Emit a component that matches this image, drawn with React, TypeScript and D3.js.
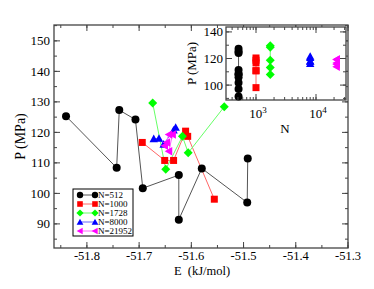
import React from "react";
import * as d3 from "d3";

const E512 = [-51.840, -51.743, -51.738, -51.707, -51.693, -51.624, -51.624, -51.580, -51.493, -51.492];
const P512 = [125.3, 108.4, 127.3, 124.2, 101.7, 106.0, 91.4, 108.2, 97.0, 111.4];
const E1000 = [-51.694, -51.651, -51.634, -51.611, -51.607, -51.556];
const P1000 = [116.7, 110.8, 110.8, 120.4, 118.7, 98.1];
const E1728 = [-51.674, -51.649, -51.617, -51.606, -51.537];
const P1728 = [129.6, 107.9, 118.7, 113.3, 128.4];
const E8000 = [-51.672, -51.662, -51.653, -51.634, -51.630];
const P8000 = [117.9, 118.0, 116.1, 120.7, 121.6];
const E21952 = [-51.647, -51.651, -51.643, -51.636, -51.643];
const P21952 = [116.7, 115.6, 119.3, 119.3, 113.8];

const seriesN = [512, 1000, 1728, 8000, 21952];
const seriesLabels = ["N=512", "N=1000", "N=1728", "N=8000", "N=21952"];
const seriesColors = ["#000000", "#ff0000", "#00ff00", "#0000ff", "#ff00ff"];
const lineColors = ["#555555", "#ff6666", "#66ff66", "#6666ff", "#ff66ff"];
const seriesShapes = ["circle", "square", "diamond", "triUp", "triLeft"];
const seriesE = [E512, E1000, E1728, E8000, E21952];
const seriesP = [P512, P1000, P1728, P8000, P21952];

const xTicks = [-51.8, -51.7, -51.6, -51.5, -51.4, -51.3];
const yTicks = [90, 100, 110, 120, 130, 140, 150];
const insetYTicks = [100, 120, 140];
const insetXTicks = [1000, 10000];

const SERIF = "'Liberation Serif', 'DejaVu Serif', serif";

function Marker({ shape, x, y, color, s = 1 }: { shape: string; x: number; y: number; color: string; s?: number }) {
  if (shape === "circle") return <circle cx={x} cy={y} r={4 * s} fill={color} />;
  if (shape === "square") {
    const h = 3.5 * s;
    return <rect x={x - h} y={y - h} width={2 * h} height={2 * h} fill={color} />;
  }
  if (shape === "diamond") {
    const h = 4.5 * s;
    return <path d={`M${x},${y - h}L${x + h},${y}L${x},${y + h}L${x - h},${y}Z`} fill={color} />;
  }
  if (shape === "triUp") {
    const h = 4.2 * s;
    return <path d={`M${x},${y - h}L${x + h},${y + h * 0.8}L${x - h},${y + h * 0.8}Z`} fill={color} />;
  }
  const h = 4.2 * s;
  return <path d={`M${x - h},${y}L${x + h * 0.8},${y - h}L${x + h * 0.8},${y + h}Z`} fill={color} />;
}

export default function App() {
  const x = d3.scaleLinear().domain([-51.863, -51.3]).range([54, 348]);
  const y = d3.scaleLinear().domain([82.1, 155.2]).range([248, 25]);
  const ix = d3.scaleLog().domain([Math.pow(10, 2.5), Math.pow(10, 4.5)]).range([226, 346]);
  const iy = d3.scaleLinear().domain([88.8, 143.7]).range([100, 27]);

  const [x0, x1] = x.range();
  const [y0, y1] = y.range();
  const [ix0, ix1] = ix.range();
  const [iy0, iy1] = iy.range();

  const xMinor = d3.range(-51.85, -51.29, 0.05).filter((v) => v > -51.863);
  const yMinor = d3.range(85, 156, 5);
  const iyMinor = d3.range(90, 144, 10);
  const ixMinor: number[] = [];
  for (const dec of [100, 1000, 10000]) for (let k = 1; k < 10; k++) {
    const v = dec * k;
    if (v > Math.pow(10, 2.5) && v < Math.pow(10, 4.5)) ixMinor.push(v);
  }

  const line = (E: number[], P: number[]) =>
    d3.line<number>().x((_, i) => x(E[i])).y((_, i) => y(P[i]))(P) || "";

  const tickColor = "#444";

  return (
    <svg width={374} height={289} style={{ position: "absolute", left: 0, top: 0, background: "#fff" }} fontFamily={SERIF}>
      <rect width={374} height={289} fill="#fff" />
      {seriesE.map((E, si) => (
        <path key={"l" + si} d={line(E, seriesP[si])} fill="none" stroke={lineColors[si]} strokeWidth={1} />
      ))}
      {seriesE.map((E, si) =>
        E.map((e, i) => (
          <Marker key={`m${si}-${i}`} shape={seriesShapes[si]} x={x(e)} y={y(seriesP[si][i])} color={seriesColors[si]} />
        ))
      )}
      <rect x={x0} y={y1} width={x1 - x0} height={y0 - y1} fill="none" stroke={tickColor} strokeWidth={1.3} />
      {xTicks.map((t) => (
        <g key={"xt" + t}>
          <line x1={x(t)} x2={x(t)} y1={y0} y2={y0 - 6} stroke={tickColor} />
          <line x1={x(t)} x2={x(t)} y1={y1} y2={y1 + 6} stroke={tickColor} />
          <text x={x(t)} y={260} textAnchor="middle" fontSize={12.5}>{t.toFixed(1)}</text>
        </g>
      ))}
      {xMinor.map((t, i) => (
        <g key={"xm" + i}>
          <line x1={x(t)} x2={x(t)} y1={y0} y2={y0 - 3} stroke={tickColor} />
          <line x1={x(t)} x2={x(t)} y1={y1} y2={y1 + 3} stroke={tickColor} />
        </g>
      ))}
      {yTicks.map((t) => (
        <g key={"yt" + t}>
          <line x1={x0} x2={x0 + 6} y1={y(t)} y2={y(t)} stroke={tickColor} />
          <line x1={x1} x2={x1 - 6} y1={y(t)} y2={y(t)} stroke={tickColor} />
          <text x={50} y={y(t) + 4.5} textAnchor="end" fontSize={13}>{t}</text>
        </g>
      ))}
      {yMinor.map((t, i) => (
        <g key={"ym" + i}>
          <line x1={x0} x2={x0 + 3} y1={y(t)} y2={y(t)} stroke={tickColor} />
          <line x1={x1} x2={x1 - 3} y1={y(t)} y2={y(t)} stroke={tickColor} />
        </g>
      ))}
      <text x={202} y={274.5} textAnchor="middle" fontSize={12.5} style={{ whiteSpace: "pre" }}>{"E  (kJ/mol)"}</text>
      <text transform={`translate(25,${(y0 + y1) / 2}) rotate(-90)`} textAnchor="middle" fontSize={14}>P (MPa)</text>

      <rect x={73} y={189} width={60} height={47} fill="#fff" stroke="#000" strokeWidth={1} />
      {seriesLabels.map((lab, si) => {
        const ly = 195 + si * 9;
        return (
          <g key={"lg" + si}>
            <line x1={80} x2={95} y1={ly} y2={ly} stroke={lineColors[si]} />
            <Marker shape={seriesShapes[si]} x={80} y={ly} color={seriesColors[si]} s={0.8} />
            <Marker shape={seriesShapes[si]} x={95} y={ly} color={seriesColors[si]} s={0.8} />
            <text x={98} y={ly + 3.3} fontSize={9}>{lab}</text>
          </g>
        );
      })}

      <rect x={ix0} y={iy1} width={ix1 - ix0} height={iy0 - iy1} fill="#fff" stroke={tickColor} strokeWidth={1.3} />
      {seriesP.map((P, si) => {
        const sorted = [...P].sort((a, b) => a - b);
        return (
          <line key={"il" + si} x1={ix(seriesN[si])} x2={ix(seriesN[si])} y1={iy(sorted[0])} y2={iy(sorted[sorted.length - 1])} stroke={lineColors[si]} />
        );
      })}
      {seriesP.map((P, si) =>
        P.map((p, i) => (
          <Marker key={`im${si}-${i}`} shape={seriesShapes[si]} x={ix(seriesN[si])} y={iy(p)} color={seriesColors[si]} />
        ))
      )}
      {insetXTicks.map((t) => (
        <g key={"ixt" + t}>
          <line x1={ix(t)} x2={ix(t)} y1={iy0} y2={iy0 - 6} stroke={tickColor} />
          <line x1={ix(t)} x2={ix(t)} y1={iy1} y2={iy1 + 6} stroke={tickColor} />
          <text x={ix(t) + 2} y={118} textAnchor="middle" fontSize={13}>
            10<tspan dy={-5} fontSize={9}>{Math.round(Math.log10(t))}</tspan>
          </text>
        </g>
      ))}
      {ixMinor.map((t, i) => (
        <g key={"ixm" + i}>
          <line x1={ix(t)} x2={ix(t)} y1={iy0} y2={iy0 - 3} stroke={tickColor} />
          <line x1={ix(t)} x2={ix(t)} y1={iy1} y2={iy1 + 3} stroke={tickColor} />
        </g>
      ))}
      {insetYTicks.map((t) => (
        <g key={"iyt" + t}>
          <line x1={ix0} x2={ix0 + 6} y1={iy(t)} y2={iy(t)} stroke={tickColor} />
          <line x1={ix1} x2={ix1 - 6} y1={iy(t)} y2={iy(t)} stroke={tickColor} />
          <text x={223} y={iy(t) + 4.5} textAnchor="end" fontSize={13}>{t}</text>
        </g>
      ))}
      {iyMinor.map((t, i) => (
        <g key={"iym" + i}>
          <line x1={ix0} x2={ix0 + 3} y1={iy(t)} y2={iy(t)} stroke={tickColor} />
          <line x1={ix1} x2={ix1 - 3} y1={iy(t)} y2={iy(t)} stroke={tickColor} />
        </g>
      ))}
      <text x={285} y={133} textAnchor="middle" fontSize={13}>N</text>
      <text transform={`translate(196,${(iy0 + iy1) / 2}) rotate(-90)`} textAnchor="middle" fontSize={13}>P (MPa)</text>
    </svg>
  );
}
